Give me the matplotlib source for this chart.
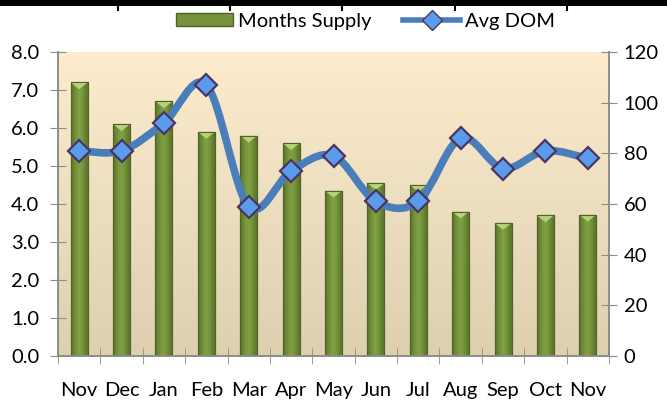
import numpy as np
import matplotlib.pyplot as plt
from matplotlib.path import Path
from matplotlib.patches import PathPatch, Rectangle, Polygon
from matplotlib.lines import Line2D

plt.rcParams['font.family'] = ['Lato', 'DejaVu Sans']

months = ['Nov', 'Dec', 'Jan', 'Feb', 'Mar', 'Apr', 'May', 'Jun', 'Jul', 'Aug', 'Sep', 'Oct', 'Nov']
supply = [7.2, 6.1, 6.7, 5.9, 5.8, 5.6, 4.35, 4.55, 4.5, 3.8, 3.5, 3.7, 3.72]
dom = [81, 81, 92, 107, 59, 73, 79, 61, 61, 86, 74, 81, 78]

fs = 14.5
fig = plt.figure(figsize=(6.67, 4.05), dpi=100)
ax1 = fig.add_axes([58/667, 49/405, (609-58)/667, (356-52)/405])

# background gradient
grad = np.linspace(0, 1, 256).reshape(-1, 1)
top = np.array([253, 236, 206]) / 255
bot = np.array([220, 208, 175]) / 255
img = top + (bot - top) * grad[:, :, None]
ax1.imshow(img, extent=[0, 1, 0, 1], transform=ax1.transAxes, aspect='auto', zorder=0)

x = np.arange(len(months))
bars = ax1.bar(x, supply, width=0.4, color='#77933C', edgecolor='#4F6228', linewidth=0.8, zorder=2)

# bevel look on each bar
hgrad = np.array([0.0, 0.4, 0.8, 1.0, 0.8, 0.4, 0.0]).reshape(1, -1)
dark = np.array([96, 122, 45]) / 255
light = np.array([128, 160, 68]) / 255
bimg = dark + (light - dark) * hgrad[:, :, None]
for b in bars:
    bx, bw, bh = b.get_x(), b.get_width(), b.get_height()
    im = ax1.imshow(bimg, extent=[bx, bx + bw, 0, bh], aspect='auto', zorder=2.1)
    im.set_clip_path(b)
    tri = Polygon([[bx, bh], [bx + bw, bh], [bx + bw / 2, bh - 0.18]], closed=True,
                  facecolor='#B5D47A', edgecolor='none', zorder=2.2)
    ax1.add_patch(tri)
    ax1.add_patch(Rectangle((bx, 0), bw, bh, fill=False, edgecolor='#4F6228', linewidth=0.8, zorder=2.3))

ax1.set_xlim(-0.5, len(months) - 0.5)
ax1.set_ylim(0, 8)
ax1.set_yticks(np.arange(0, 8.1, 1))
ax1.set_yticklabels(['%.1f' % v for v in np.arange(0, 8.1, 1)])
ax1.set_xticks(x)
ax1.set_xticklabels(months)
ax1.set_xticks(np.arange(-0.5, len(months), 1), minor=True)
ax1.tick_params(axis='x', which='major', length=0, pad=19, labelsize=fs)
ax1.tick_params(axis='x', which='minor', direction='inout', length=11, color='#8C8C8C')
ax1.tick_params(axis='y', direction='inout', length=11, color='#8C8C8C', pad=8, labelsize=fs)

ax2 = ax1.twinx()
ax2.set_ylim(0, 120)
ax2.set_yticks(np.arange(0, 121, 20))
ax2.tick_params(axis='y', direction='inout', length=11, color='#8C8C8C', pad=5, labelsize=fs)
ax2.patch.set_visible(False)

for a in (ax1, ax2):
    a.spines['top'].set_visible(False)
    for s in ('left', 'right', 'bottom'):
        a.spines[s].set_color('#8C8C8C')
        a.spines[s].set_linewidth(1.2)

# smoothed line (bezier through points)
pts = np.column_stack([x, dom]).astype(float)
n = len(pts)
verts = [pts[0]]
codes = [Path.MOVETO]
for i in range(n - 1):
    p0 = pts[max(i - 1, 0)]
    p1 = pts[i]
    p2 = pts[i + 1]
    p3 = pts[min(i + 2, n - 1)]
    c1 = p1 + (p2 - p0) / 6
    c2 = p2 - (p3 - p1) / 6
    verts += [c1, c2, p2]
    codes += [Path.CURVE4] * 3
line_color = '#4A7EBB'
ax2.add_patch(PathPatch(Path(verts, codes), fill=False, edgecolor=line_color, linewidth=5.5,
                        capstyle='round', joinstyle='round', zorder=3))
ax2.plot(x, dom, linestyle='none', marker='D', markersize=11.5, markerfacecolor='#5A9BEB',
         markeredgecolor='#4A3560', markeredgewidth=1.6, zorder=4)

# legend
h1 = Rectangle((0, 0), 1, 1, facecolor='#77933C', edgecolor='#4F6228')
h2 = Line2D([], [], color=line_color, linewidth=4, marker='D', markersize=10,
            markerfacecolor='#5A9BEB', markeredgecolor='#4A3560')
fig.legend([h1, h2], ['Months Supply', 'Avg DOM'], loc='center', bbox_to_anchor=(0.548, 0.948),
           ncol=2, frameon=False, fontsize=fs, handlelength=2.8, handleheight=0.6,
           handletextpad=0.25, columnspacing=1.6)

# black band at the top
fig.patches.append(Rectangle((0, 1 - 6/405), 1, 6/405, transform=fig.transFigure,
                             facecolor='black', edgecolor='none'))
for tx in [118, 230, 342, 455, 567]:
    fig.lines.append(Line2D([tx/667, tx/667], [1, 1 - 10/405], transform=fig.transFigure,
                            color='black', linewidth=1.5))

fig.savefig('out.png', dpi=100)
